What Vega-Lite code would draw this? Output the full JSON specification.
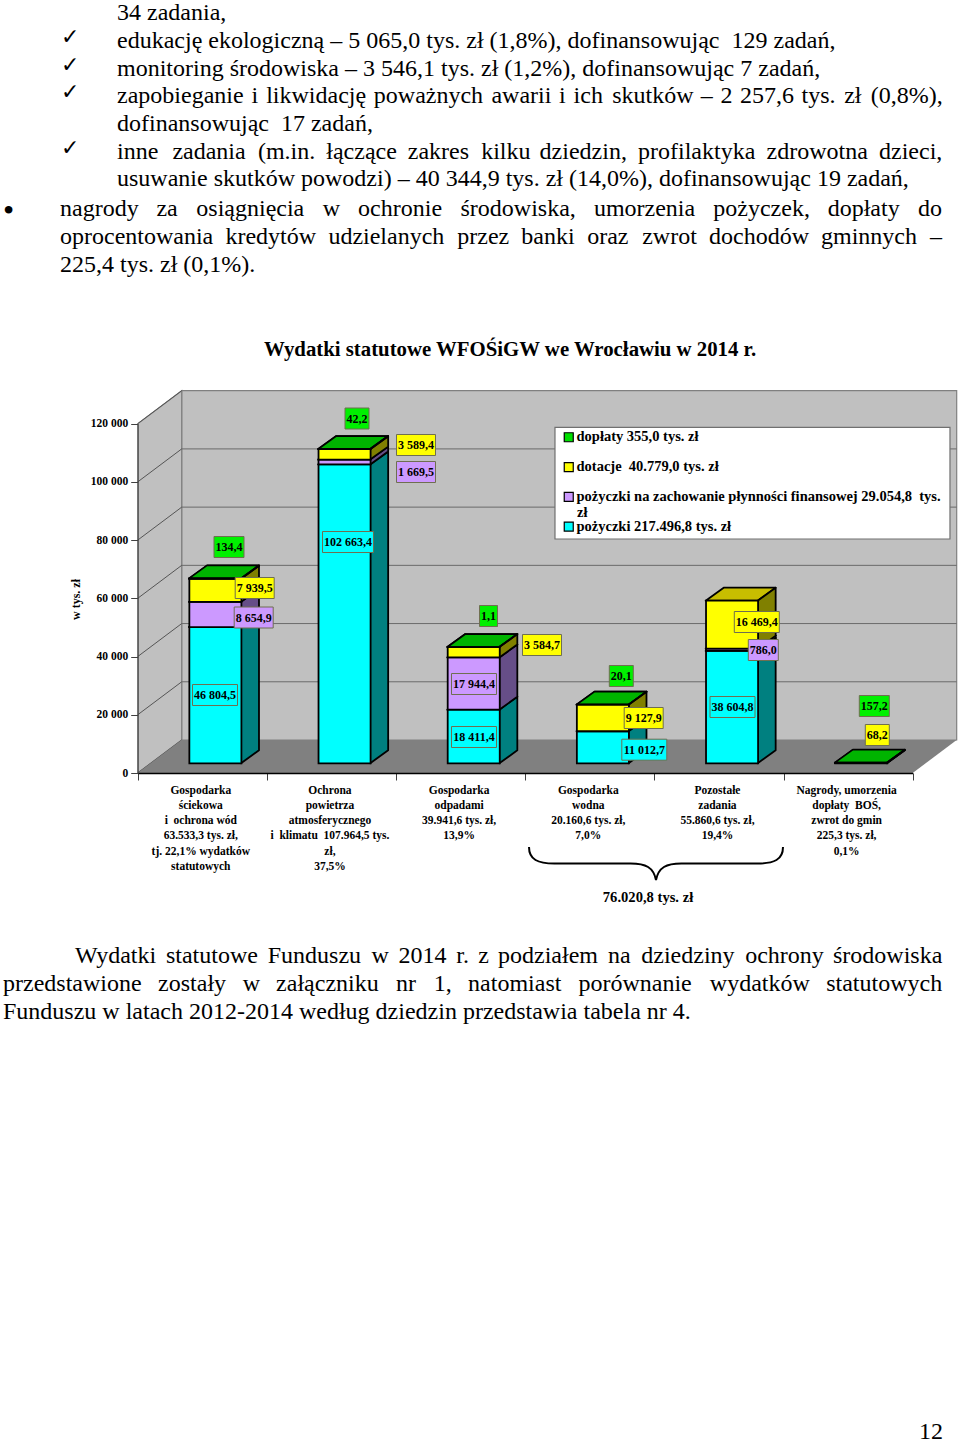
{
"$schema":"https://vega.github.io/schema/vega-lite/v6.json",
"width":960,"height":1442,"padding":0,"autosize":{"type":"none"},"background":"white",
"config":{"view":{"stroke":null},"text":{"font":"Liberation Serif"}},
"datasets":{
"segments":[
{"cat":1,"series":"pozyczki","value":46804.5,"stackPos":1},
{"cat":1,"series":"plynnosc","value":8654.9,"stackPos":2},
{"cat":1,"series":"dotacje","value":7939.5,"stackPos":3},
{"cat":1,"series":"doplaty","value":134.4,"stackPos":4},
{"cat":2,"series":"pozyczki","value":102663.4,"stackPos":1},
{"cat":2,"series":"plynnosc","value":1669.5,"stackPos":2},
{"cat":2,"series":"dotacje","value":3589.4,"stackPos":3},
{"cat":2,"series":"doplaty","value":42.2,"stackPos":4},
{"cat":3,"series":"pozyczki","value":18411.4,"stackPos":1},
{"cat":3,"series":"plynnosc","value":17944.4,"stackPos":2},
{"cat":3,"series":"dotacje","value":3584.7,"stackPos":3},
{"cat":3,"series":"doplaty","value":1.1,"stackPos":4},
{"cat":4,"series":"pozyczki","value":11012.7,"stackPos":1},
{"cat":4,"series":"dotacje","value":9127.9,"stackPos":3},
{"cat":4,"series":"doplaty","value":20.1,"stackPos":4},
{"cat":5,"series":"pozyczki","value":38604.8,"stackPos":1},
{"cat":5,"series":"plynnosc","value":786.0,"stackPos":2},
{"cat":5,"series":"dotacje","value":16469.4,"stackPos":3},
{"cat":6,"series":"dotacje","value":68.2,"stackPos":3},
{"cat":6,"series":"doplaty","value":157.2,"stackPos":4}
],
"labels":[
{"label":"134,4","series":"doplaty","slot":1},
{"label":"42,2","series":"doplaty","slot":2},
{"label":"3 589,4","series":"dotacje","slot":3},
{"label":"1 669,5","series":"plynnosc","slot":4},
{"label":"102 663,4","series":"pozyczki","slot":5},
{"label":"7 939,5","series":"dotacje","slot":6},
{"label":"8 654,9","series":"plynnosc","slot":7},
{"label":"46 804,5","series":"pozyczki","slot":8},
{"label":"1,1","series":"doplaty","slot":9},
{"label":"17 944,4","series":"plynnosc","slot":10},
{"label":"18 411,4","series":"pozyczki","slot":11},
{"label":"3 584,7","series":"dotacje","slot":12},
{"label":"20,1","series":"doplaty","slot":13},
{"label":"9 127,9","series":"dotacje","slot":14},
{"label":"11 012,7","series":"pozyczki","slot":15},
{"label":"16 469,4","series":"dotacje","slot":16},
{"label":"786,0","series":"plynnosc","slot":17},
{"label":"38 604,8","series":"pozyczki","slot":18},
{"label":"157,2","series":"doplaty","slot":19},
{"label":"68,2","series":"dotacje","slot":20}
],
"page":[
{"line":1,"col":1,"t":"34 zadania,"},
{"line":2,"col":2,"t":"edukację ekologiczną – 5 065,0 tys. zł (1,8%), dofinansowując\u00a0 129 zadań,"},
{"line":3,"col":3,"t":"monitoring środowiska – 3 546,1 tys. zł (1,2%), dofinansowując 7 zadań,"},
{"line":4,"col":4,"t":"zapobieganie"},{"line":4,"col":5,"t":"i"},{"line":4,"col":6,"t":"likwidację"},{"line":4,"col":7,"t":"poważnych"},{"line":4,"col":8,"t":"awarii"},{"line":4,"col":9,"t":"i"},{"line":4,"col":10,"t":"ich"},{"line":4,"col":11,"t":"skutków"},{"line":4,"col":12,"t":"–"},{"line":4,"col":13,"t":"2"},{"line":4,"col":14,"t":"257,6"},{"line":4,"col":15,"t":"tys."},{"line":4,"col":16,"t":"zł"},{"line":4,"col":17,"t":"(0,8%),"},
{"line":5,"col":18,"t":"dofinansowując\u00a0 17 zadań,"},
{"line":6,"col":19,"t":"inne"},{"line":6,"col":20,"t":"zadania"},{"line":6,"col":21,"t":"(m.in."},{"line":6,"col":22,"t":"łączące"},{"line":6,"col":23,"t":"zakres"},{"line":6,"col":24,"t":"kilku"},{"line":6,"col":25,"t":"dziedzin,"},{"line":6,"col":26,"t":"profilaktyka"},{"line":6,"col":27,"t":"zdrowotna"},{"line":6,"col":28,"t":"dzieci,"},
{"line":7,"col":29,"t":"usuwanie skutków powodzi) – 40 344,9 tys. zł (14,0%), dofinansowując 19 zadań,"},
{"line":8,"col":30,"t":"nagrody"},{"line":8,"col":31,"t":"za"},{"line":8,"col":32,"t":"osiągnięcia"},{"line":8,"col":33,"t":"w"},{"line":8,"col":34,"t":"ochronie"},{"line":8,"col":35,"t":"środowiska,"},{"line":8,"col":36,"t":"umorzenia"},{"line":8,"col":37,"t":"pożyczek,"},{"line":8,"col":38,"t":"dopłaty"},{"line":8,"col":39,"t":"do"},
{"line":9,"col":40,"t":"oprocentowania"},{"line":9,"col":41,"t":"kredytów"},{"line":9,"col":42,"t":"udzielanych"},{"line":9,"col":43,"t":"przez"},{"line":9,"col":44,"t":"banki"},{"line":9,"col":45,"t":"oraz"},{"line":9,"col":46,"t":"zwrot"},{"line":9,"col":47,"t":"dochodów"},{"line":9,"col":48,"t":"gminnych"},{"line":9,"col":49,"t":"–"},
{"line":10,"col":50,"t":"225,4 tys. zł (0,1%)."},
{"line":11,"col":51,"t":"Wydatki"},{"line":11,"col":52,"t":"statutowe"},{"line":11,"col":53,"t":"Funduszu"},{"line":11,"col":54,"t":"w"},{"line":11,"col":55,"t":"2014"},{"line":11,"col":56,"t":"r."},{"line":11,"col":57,"t":"z"},{"line":11,"col":58,"t":"podziałem"},{"line":11,"col":59,"t":"na"},{"line":11,"col":60,"t":"dziedziny"},{"line":11,"col":61,"t":"ochrony"},{"line":11,"col":62,"t":"środowiska"},
{"line":12,"col":63,"t":"przedstawione"},{"line":12,"col":64,"t":"zostały"},{"line":12,"col":65,"t":"w"},{"line":12,"col":66,"t":"załączniku"},{"line":12,"col":67,"t":"nr"},{"line":12,"col":68,"t":"1,"},{"line":12,"col":69,"t":"natomiast"},{"line":12,"col":70,"t":"porównanie"},{"line":12,"col":71,"t":"wydatków"},{"line":12,"col":72,"t":"statutowych"},
{"line":13,"col":73,"t":"Funduszu w latach 2012-2014 według dziedzin przedstawia tabela nr 4."},
{"line":14,"col":74,"t":"12"}
]
},
"resolve":{"scale":{"x":"independent","y":"independent","color":"independent"},"axis":{"x":"independent","y":"independent"},"legend":{"color":"independent"}},
"layer":[
{
"layer":[
{"data":{"values":[{"pos":0.3406,"pos2":6.3406,"level":11337,"level2":131337}]},
 "mark":{"type":"rect","fill":"#C0C0C0","stroke":"#808080","strokeWidth":1.2},
 "encoding":{"x":{"field":"pos","type":"quantitative","axis":null,"scale":{"type":"linear","domain":[0,6],"range":[137.7,912.7],"nice":false,"zero":false}},"x2":{"field":"pos2"},
 "y":{"field":"level","type":"quantitative","axis":null,"scale":{"type":"linear","domain":[0,120000],"range":[773,423.7],"nice":false,"zero":false}},"y2":{"field":"level2"}}},
{"data":{"values":[{"pos":0,"level":0,"level2":120000},{"pos":0.3406,"level":11337,"level2":131337}]},
 "mark":{"type":"area","fill":"#C0C0C0","stroke":"#808080","strokeWidth":1.2},
 "encoding":{"x":{"field":"pos","type":"quantitative","axis":null},"y":{"field":"level","type":"quantitative","axis":null,"stack":null},"y2":{"field":"level2"}}},
{"data":{"values":[{"tick":20000,"lifted":31337},{"tick":40000,"lifted":51337},{"tick":60000,"lifted":71337},{"tick":80000,"lifted":91337},{"tick":100000,"lifted":111337}]},
 "mark":{"type":"rule","stroke":"#6a6a6a","strokeWidth":1},
 "encoding":{"y":{"field":"lifted","type":"quantitative","axis":null},"y2":{"field":"lifted"},"x":{"datum":0.3406,"type":"quantitative","axis":null},"x2":{"datum":6.3406}}},
{"data":{"values":[{"tick":0,"lifted":11337},{"tick":20000,"lifted":31337},{"tick":40000,"lifted":51337},{"tick":60000,"lifted":71337},{"tick":80000,"lifted":91337},{"tick":100000,"lifted":111337},{"tick":120000,"lifted":131337}]},
 "mark":{"type":"rule","stroke":"#555555","strokeWidth":1},
 "encoding":{"y":{"field":"tick","type":"quantitative","axis":null},"y2":{"field":"lifted"},"x":{"datum":0,"type":"quantitative","axis":null},"x2":{"datum":0.3406}}},
{"data":{"values":[{"level":0,"pos":0,"pos2":6},{"level":11337,"pos":0.3406,"pos2":6.3406}]},
 "mark":{"type":"area","orient":"horizontal","fill":"#808080"},
 "encoding":{"y":{"field":"level","type":"quantitative","axis":null},"x":{"field":"pos","type":"quantitative","axis":null,"stack":null},"x2":{"field":"pos2"}}},
{"data":{"values":[{"pos":3.2306,"pos2":6.2886,"level":80389,"level2":118763}]},
 "mark":{"type":"rect","fill":"white","stroke":"#707070","strokeWidth":1.2},
 "encoding":{"x":{"field":"pos","type":"quantitative","axis":null},"x2":{"field":"pos2"},"y":{"field":"level","type":"quantitative","axis":null},"y2":{"field":"level2"}}}
]
},
{"data":{"values":[{"tick":0},{"tick":120000}]},
 "mark":{"type":"rule","opacity":0},
 "encoding":{"y":{"field":"tick","type":"quantitative","scale":{"type":"linear","domain":[0,120000],"range":[773,423.7],"nice":false,"zero":false},
   "axis":{"orient":"left","offset":-137.7,"values":[0,20000,40000,60000,80000,100000,120000],"labelExpr":"replace(format(datum.value,','),',',' ')","grid":false,"domain":true,"domainColor":"#404040","tickColor":"#404040","tickSize":7,"labelPadding":3,"labelFont":"Liberation Serif","labelFontWeight":"bold","labelFontSize":11.5,"labelColor":"black","title":"w tys. zł","titleFont":"Liberation Serif","titleFontWeight":"bold","titleFontSize":12,"titleColor":"black","titleAngle":270,"titleX":-62,"titleY":599,"titleAlign":"center","titleBaseline":"middle","zindex":1}}}},
{"data":{"values":[
 {"name":"Gospodarka|ściekowa|i\u00a0 ochrona wód|63.533,3 tys. zł,|tj. 22,1% wydatków|statutowych"},
 {"name":"Ochrona|powietrza|atmosferycznego|i\u00a0 klimatu\u00a0 107.964,5 tys.|zł,|37,5%"},
 {"name":"Gospodarka|odpadami|39.941,6 tys. zł,|13,9%"},
 {"name":"Gospodarka|wodna|20.160,6 tys. zł,|7,0%"},
 {"name":"Pozostałe|zadania|55.860,6 tys. zł,|19,4%"},
 {"name":"Nagrody, umorzenia|dopłaty\u00a0 BOŚ,|zwrot do gmin|225,3 tys. zł,|0,1%"}]},
 "mark":{"type":"bar","opacity":0},
 "encoding":{"x":{"field":"name","type":"nominal","sort":null,"scale":{"type":"band","range":[137.7,912.7],"padding":0},
  "axis":{"orient":"bottom","offset":-669,"title":null,"labelExpr":"split(datum.label,'|')","labelAngle":0,"labelLimit":0,"labelOverlap":false,"labelBound":false,"labelFont":"Liberation Serif","labelFontWeight":"bold","labelFontSize":11.5,"labelLineHeight":15.3,"labelColor":"black","labelPadding":4,"labelOffset":-2,"labelBaseline":"top","tickBand":"extent","tickSize":7,"tickColor":"#404040","domainColor":"black","domainWidth":1.5,"zindex":1,"grid":false}}}},
{"data":{"name":"segments"},
 "transform":[{"stack":"value","groupby":["cat"],"sort":[{"field":"stackPos","order":"ascending"}],"as":["lo","hi"]},
  {"calculate":"[0,1]","as":"corner"},{"flatten":["corner"]},
  {"calculate":"datum.cat-1+datum.corner*0.1393","as":"faceRight"},
  {"calculate":"datum.faceRight-0.4025","as":"faceLeft"},
  {"calculate":"datum.hi+datum.corner*4466","as":"faceHi"}],
 "mark":{"type":"area","orient":"horizontal","stroke":"black","strokeWidth":1.8,"strokeJoin":"round"},
 "encoding":{"y":{"field":"faceHi","type":"quantitative","axis":null,"scale":{"type":"linear","domain":[0,120000],"range":[763.3,414],"nice":false,"zero":false}},
  "x":{"field":"faceLeft","type":"quantitative","stack":null,"axis":null,"scale":{"type":"linear","domain":[0,6],"range":[241,1016],"nice":false,"zero":false}},"x2":{"field":"faceRight"},
  "detail":{"field":"cat"},"color":{"field":"series","type":"nominal","legend":null,"scale":{"domain":["doplaty","dotacje","plynnosc","pozyczki"],"range":["#00B400","#C8BE00","#9A7ACC","#00CCCC"]}}}},
{"data":{"name":"segments"},
 "transform":[{"stack":"value","groupby":["cat"],"sort":[{"field":"stackPos","order":"ascending"}],"as":["lo","hi"]},
  {"calculate":"[0,1]","as":"corner"},{"flatten":["corner"]},
  {"calculate":"datum.cat-1+datum.corner*0.1393","as":"faceRight"},
  {"calculate":"datum.hi+datum.corner*4466","as":"faceHi"},
  {"calculate":"datum.lo+datum.corner*4466","as":"faceLo"}],
 "mark":{"type":"area","stroke":"black","strokeWidth":1.8,"strokeJoin":"round"},
 "encoding":{"x":{"field":"faceRight","type":"quantitative","axis":null,"scale":{"type":"linear","domain":[0,6],"range":[241,1016],"nice":false,"zero":false}},
  "y":{"field":"faceLo","type":"quantitative","stack":null,"axis":null,"scale":{"type":"linear","domain":[0,120000],"range":[763.3,414],"nice":false,"zero":false}},"y2":{"field":"faceHi"},
  "detail":{"field":"cat"},"color":{"field":"series","type":"nominal","legend":null,"scale":{"domain":["doplaty","dotacje","plynnosc","pozyczki"],"range":["#008000","#808000","#664E88","#008080"]}}}},
{"data":{"name":"segments"},
 "transform":[{"stack":"value","groupby":["cat"],"sort":[{"field":"stackPos","order":"ascending"}],"as":["lo","hi"]}],
 "mark":{"type":"bar","stroke":"black","strokeWidth":1.8},
 "encoding":{"x":{"field":"cat","type":"ordinal","axis":null,"scale":{"type":"band","domain":[1,2,3,4,5,6],"range":[150.8,925.8],"paddingInner":0.597,"paddingOuter":0.2985}},
  "y":{"field":"lo","type":"quantitative","axis":null,"stack":null,"scale":{"type":"linear","domain":[0,120000],"range":[763.3,414],"nice":false,"zero":false}},"y2":{"field":"hi"},
  "color":{"field":"series","type":"nominal","scale":{"domain":["doplaty","dotacje","plynnosc","pozyczki"],"range":["#00E000","#FFFF00","#CC99FF","#00FFFF"]},
   "legend":{"orient":"none","legendX":561.5,"legendY":430,"title":null,"padding":0,"symbolType":"square","symbolSize":81,"symbolStrokeColor":"black","symbolStrokeWidth":1.2,"symbolOpacity":1,"rowPadding":13.8,"labelOffset":0.5,"labelFont":"Liberation Serif","labelFontWeight":"bold","labelFontSize":14.5,"labelColor":"black","labelLimit":0,"values":["doplaty","dotacje","plynnosc","pozyczki"],
   "labelExpr":"{'doplaty':'dopłaty 355,0 tys. zł','dotacje':'dotacje\u00a0 40.779,0 tys. zł','plynnosc':'pożyczki na zachowanie płynności finansowej 29.054,8\u00a0 tys.','pozyczki':'pożyczki 217.496,8 tys. zł'}[datum.label]"}}}},
{"data":{"name":"labels"},
 "layer":[
 {"mark":{"type":"rect","height":21,"width":{"expr":"6*length(datum.label)-(indexof(datum.label,' ')>=0?3:0)"},"stroke":"#6f6f50","strokeWidth":1},
  "encoding":{"x":{"field":"slot","type":"quantitative","axis":null,"scale":{"type":"linear","domain":[1,2,3,4,5,6,7,8,9,10,11,12,13,14,15,16,17,18,19,20],"range":[229,357,416,416,348,254.7,253.7,215,488.5,474,474,542,621.3,643.7,644.3,756.8,763.3,732.5,874.3,877.3],"nice":false,"zero":false}},
  "y":{"field":"slot","type":"quantitative","axis":null,"scale":{"type":"linear","domain":[1,2,3,4,5,6,7,8,9,10,11,12,13,14,15,16,17,18,19,20],"range":[547,418.5,445,472,542,588,617.5,695,616,684,737,645,676,718,749.7,622,650,707,706,735],"nice":false,"zero":false}},
  "color":{"field":"series","type":"nominal","legend":null,"scale":{"domain":["doplaty","dotacje","plynnosc","pozyczki"],"range":["#00F000","#FFFF00","#CC99FF","#00FFFF"]}}}},
 {"mark":{"type":"text","font":"Liberation Serif","fontWeight":"bold","fontSize":12,"align":"center","baseline":"middle","color":"black"},
  "encoding":{"x":{"field":"slot","type":"quantitative","axis":null},"y":{"field":"slot","type":"quantitative","axis":null},"text":{"field":"label"}}}
 ]},
{"layer":[
 {"data":{"name":"page"},
  "mark":{"type":"text","font":"Liberation Serif","fontSize":24,"align":"left","baseline":"alphabetic","color":"black"},
  "encoding":{"x":{"field":"col","type":"quantitative","axis":null,"scale":{"type":"linear","domain":[1,2,3,4,5,6,7,8,9,10,11,12,13,14,15,16,17,18,19,20,21,22,23,24,25,26,27,28,29,30,31,32,33,34,35,36,37,38,39,40,41,42,43,44,45,46,47,48,49,50,51,52,53,54,55,56,57,58,59,60,61,62,63,64,65,66,67,68,69,70,71,72,73,74,75,76],
    "range":[117,117,117,117,251.6,266.2,373.8,491.4,559,573.6,612.2,700.8,720.4,740,801.6,844.2,870.8,117,117,172.4,257.9,326.3,407.8,481.2,539.6,638,766.5,879,117,60,156.4,196.3,322.7,358.1,460.5,593.9,713.3,827.7,918,60,225.4,328.4,457.3,521.3,587.2,642.2,709.1,821,930,60,75,165.9,267.7,371.6,398.4,456.3,478.2,498,607.9,641.3,745.2,833,3,158.1,242.7,276.1,396,433.7,468.1,578.4,709.8,826.2,3,919,61,3],"nice":false,"zero":false}},
   "y":{"field":"line","type":"quantitative","axis":null,"scale":{"type":"linear","domain":[1,2,3,4,5,6,7,8,9,10,11,12,13,14],"range":[20,48,76,103,131,159,186,216,244,272,963,991,1019,1439],"nice":false,"zero":false}},
   "text":{"field":"t"}}},
 {"data":{"values":[{"line":2,"col":75,"t":"✓"},{"line":3,"col":75,"t":"✓"},{"line":4,"col":75,"t":"✓"},{"line":6,"col":75,"t":"✓"}]},
  "mark":{"type":"text","font":"DejaVu Sans","fontSize":22,"align":"left","baseline":"alphabetic","dy":-4,"color":"black"},
  "encoding":{"x":{"field":"col","type":"quantitative","axis":null},"y":{"field":"line","type":"quantitative","axis":null},"text":{"field":"t"}}},
 {"data":{"values":[{"line":8,"col":76,"t":"•"}]},
  "mark":{"type":"text","font":"Liberation Serif","fontSize":32,"align":"left","baseline":"alphabetic","dy":5,"color":"black"},
  "encoding":{"x":{"field":"col","type":"quantitative","axis":null},"y":{"field":"line","type":"quantitative","axis":null},"text":{"field":"t"}}}
]},
{"layer":[
 {"data":{"values":[{"t":"Wydatki statutowe WFOŚiGW we Wrocławiu w 2014 r.","slot":1}]},
  "mark":{"type":"text","font":"Liberation Serif","fontWeight":"bold","fontSize":20.8,"align":"center","baseline":"alphabetic","color":"black"},
  "encoding":{"x":{"field":"slot","type":"quantitative","axis":null,"scale":{"type":"linear","domain":[1,2,3,4],"range":[510,648,577,656],"nice":false,"zero":false}},
   "y":{"field":"slot","type":"quantitative","axis":null,"scale":{"type":"linear","domain":[1,2,3,4],"range":[356,902,517,863.5],"nice":false,"zero":false}},"text":{"field":"t"}}},
 {"data":{"values":[{"t":"76.020,8 tys. zł","slot":2}]},
  "mark":{"type":"text","font":"Liberation Serif","fontWeight":"bold","fontSize":14.6,"align":"center","baseline":"alphabetic","color":"black"},
  "encoding":{"x":{"field":"slot","type":"quantitative","axis":null},"y":{"field":"slot","type":"quantitative","axis":null},"text":{"field":"t"}}},
 {"data":{"values":[{"t":"zł","slot":3}]},
  "mark":{"type":"text","font":"Liberation Serif","fontWeight":"bold","fontSize":14.5,"align":"left","baseline":"alphabetic","color":"black"},
  "encoding":{"x":{"field":"slot","type":"quantitative","axis":null},"y":{"field":"slot","type":"quantitative","axis":null},"text":{"field":"t"}}},
 {"data":{"values":[{"name":"brace","slot":4}]},
  "mark":{"type":"point","filled":false,"stroke":"black","strokeWidth":2,"opacity":1,"size":64516,
   "shape":"M-1,-0.13 C-1,-0.03 -0.93,0 -0.8,0 L-0.2,0 C-0.08,0 -0.02,0.03 0,0.13 C0.02,0.03 0.08,0 0.2,0 L0.8,0 C0.93,0 1,-0.03 1,-0.13"},
  "encoding":{"x":{"field":"slot","type":"quantitative","axis":null},"y":{"field":"slot","type":"quantitative","axis":null}}}
]}
]
}
